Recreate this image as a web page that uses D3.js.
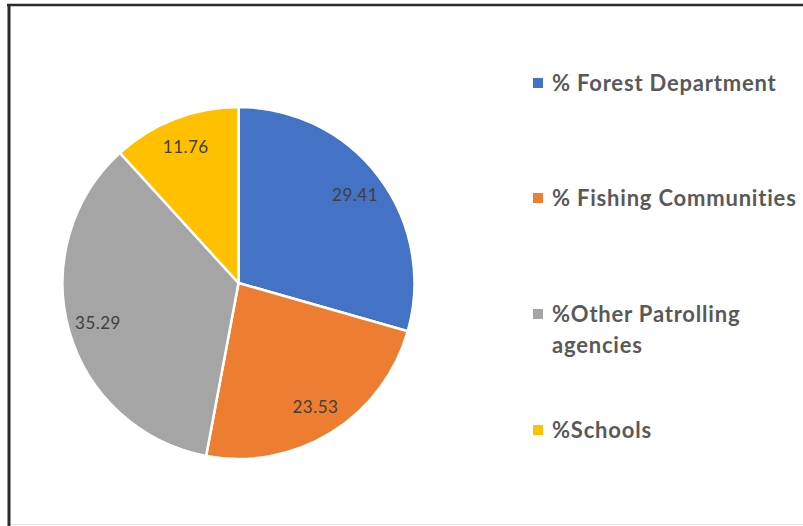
<!DOCTYPE html>
<html>
<head>
<meta charset="utf-8">
<script src="https://cdn.jsdelivr.net/npm/d3@7"></script>
<style>
  html, body { margin: 0; padding: 0; background: #ffffff; }
  svg { display: block; }
</style>
</head>
<body>
<svg id="chart" width="803" height="526"></svg>
<script>
// Share of reports by group (percent)
const categories = ["% Forest Department", "% Fishing Communities", "%Other Patrolling agencies", "%Schools"];
const legendLines = [["% Forest Department"], ["% Fishing Communities"], ["%Other Patrolling", "agencies"], ["%Schools"]];
const values = [29.41, 23.53, 35.29, 11.76];
const colors = ["#4472C4", "#ED7D31", "#A5A5A5", "#FFC000"];

const svg = d3.select("#chart");
const W = 803, H = 526;

// frame
svg.append("rect").attr("x", 0).attr("y", 0).attr("width", W).attr("height", H).attr("fill", "#fff");
svg.append("line").attr("x1", 7).attr("x2", W).attr("y1", 5).attr("y2", 5)
  .attr("stroke", "#2b2b2b").attr("stroke-width", 2.5);
svg.append("line").attr("x1", 9).attr("x2", 9).attr("y1", 4).attr("y2", H)
  .attr("stroke", "#2b2b2b").attr("stroke-width", 3);
svg.append("line").attr("x1", 11).attr("x2", W).attr("y1", 524.5).attr("y2", 524.5)
  .attr("stroke", "#e4e4e4").attr("stroke-width", 1);

const cx = 238.5, cy = 283, r = 176;
const color = d3.scaleOrdinal().domain(categories).range(colors);

const pie = d3.pie().sort(null).value(d => d.value);
const data = categories.map((c, i) => ({ name: c, value: values[i] }));
const arcs = pie(data);
const arc = d3.arc().innerRadius(0).outerRadius(r);
const labelArc = d3.arc().innerRadius(r * 0.83).outerRadius(r * 0.83);

const g = svg.append("g").attr("transform", `translate(${cx},${cy})`);
g.selectAll("path.slice").data(arcs).enter().append("path")
  .attr("class", "slice")
  .attr("d", arc)
  .attr("fill", d => color(d.data.name))
  .attr("stroke", "#ffffff")
  .attr("stroke-width", 2.5)
  .attr("stroke-linejoin", "round");

g.selectAll("text.val").data(arcs).enter().append("text")
  .attr("class", "val")
  .attr("transform", d => `translate(${labelArc.centroid(d)})`)
  .attr("text-anchor", "middle")
  .attr("dy", "0.36em")
  .attr("font-family", "Lato, 'Open Sans', sans-serif")
  .attr("font-size", 17)
  .attr("letter-spacing", 0.5)
  .attr("fill", "#404040")
  .text(d => d3.format(".2f")(d.data.value));

// legend
const legendY = [83, 198, 314, 430];
const lg = svg.append("g");
categories.forEach((c, i) => {
  lg.append("rect")
    .attr("x", 533).attr("y", legendY[i] - 5)
    .attr("width", 10).attr("height", 10)
    .attr("fill", colors[i]);
  const t = lg.append("text")
    .attr("x", 552).attr("y", legendY[i])
    .attr("font-family", "Lato, 'Open Sans', sans-serif")
    .attr("font-weight", "bold")
    .attr("font-size", 22)
    .attr("letter-spacing", 0.8)
    .attr("fill", "#595959");
  legendLines[i].forEach((line, j) => {
    t.append("tspan").attr("x", 552).attr("dy", j === 0 ? "0.36em" : "1.4em").text(line);
  });
});
</script>
</body>
</html>
